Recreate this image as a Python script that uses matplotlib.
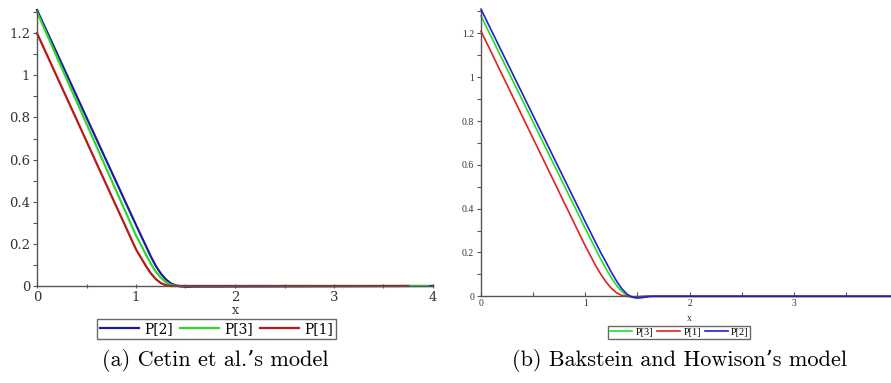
import numpy as np
import matplotlib.pyplot as plt
from matplotlib.ticker import MultipleLocator, FixedLocator

# ---- data ----
# (a) Cetin et al.'s model
x_a = [0, 0.2, 0.4, 0.6, 0.8, 1.0, 1.1, 1.15, 1.2, 1.25, 1.3, 1.35, 1.4, 1.45, 1.5, 1.6, 3.75, 3.95, 4.0]
p2_a = [1.31, 1.106, 0.902, 0.698, 0.494, 0.29, 0.19, 0.14, 0.095, 0.06, 0.032, 0.013, 0.003, -0.002, -0.004, -0.003, 0, 0, 0]
p3_a = [1.30, 1.088, 0.876, 0.664, 0.452, 0.24, 0.15, 0.105, 0.068, 0.04, 0.018, 0.006, 0.001, 0, 0, 0, 0, 0, np.nan]
p1_a = [1.20, 0.995, 0.79, 0.584, 0.379, 0.174, 0.095, 0.06, 0.033, 0.014, 0.004, 0, 0, 0, 0, 0, 0, np.nan, np.nan]

# (b) Bakstein and Howison's model
x_b = [0, 0.2, 0.4, 0.6, 0.8, 1.0, 1.1, 1.15, 1.2, 1.25, 1.3, 1.35, 1.4, 1.45, 1.5, 1.55, 1.6, 1.65, 4.0]
p2_b = [1.31, 1.116, 0.922, 0.728, 0.534, 0.34, 0.245, 0.198, 0.155, 0.11, 0.07, 0.035, 0.01, -0.004, -0.008, -0.006, -0.002, 0, 0]
p3_b = [1.28, 1.086, 0.892, 0.698, 0.504, 0.31, 0.215, 0.168, 0.125, 0.085, 0.05, 0.022, 0.004, -0.004, -0.005, -0.003, 0, 0, 0]
p1_b = [1.21, 1.014, 0.818, 0.622, 0.426, 0.23, 0.14, 0.1, 0.065, 0.037, 0.016, 0.004, 0, -0.002, -0.002, 0, 0.001, 0, 0]

yticks = [0, 0.2, 0.4, 0.6, 0.8, 1, 1.2]
ylabels = ["0", "0.2", "0.4", "0.6", "0.8", "1", "1.2"]
xticks_a = [0, 1, 2, 3, 4]
xticks_b = [0, 1, 2, 3]

fig = plt.figure(figsize=(8.91, 3.83), dpi=100)

def style_axes(ax, xt, fs, family, xdir, ydir):
    for s in ["top", "right"]:
        ax.spines[s].set_visible(False)
    for s in ["left", "bottom"]:
        ax.spines[s].set_color("#555555")
        ax.spines[s].set_linewidth(1.0)
    ax.set_xlim(0, 4)
    ax.set_ylim(0, 1.31)
    ax.xaxis.set_major_locator(FixedLocator(xt))
    ax.xaxis.set_minor_locator(MultipleLocator(0.5))
    ax.yaxis.set_major_locator(FixedLocator(yticks))
    ax.yaxis.set_minor_locator(MultipleLocator(0.1))
    ax.set_yticklabels(ylabels)
    ax.set_xticklabels([str(t) for t in xt])
    ax.tick_params(axis="x", which="both", direction=xdir, length=3, width=0.8, color="#555555",
                   labelsize=fs, pad=2)
    ax.tick_params(axis="y", which="both", direction=ydir, length=3, width=0.8, color="#555555",
                   labelsize=fs, pad=2)
    for lab in ax.get_xticklabels() + ax.get_yticklabels():
        lab.set_family(family)
        lab.set_color("#333333")

# left panel
ax1 = fig.add_axes([37/891, 97/383, 396/891, 276/383])
style_axes(ax1, xticks_a, 9.5, "DejaVu Serif", "inout", "out")
b1, = ax1.plot(x_a, p2_a, color="#1c1c9a", lw=1.6, clip_on=False)
g1, = ax1.plot(x_a, p3_a, color="#2fd62f", lw=1.6, clip_on=False)
r1, = ax1.plot(x_a, p1_a, color="#b81818", lw=1.6, clip_on=False)
ax1.set_xlabel("x", fontsize=9, family="DejaVu Serif", color="#333333", labelpad=0)
leg1 = ax1.legend([b1, g1, r1], ["P[2]", "P[3]", "P[1]"], loc="upper center",
                  bbox_to_anchor=((216.5 - 37) / 396, -0.12), ncol=3, frameon=True, fancybox=False,
                  prop={"family": "DejaVu Serif", "size": 10}, handlelength=2.8,
                  handletextpad=0.4, columnspacing=0.5, borderpad=0.2, borderaxespad=0)
leg1.get_frame().set_edgecolor("#444444")
leg1.get_frame().set_linewidth(1.0)

# right panel (x axis runs past the figure edge, as in the original)
ax2 = fig.add_axes([481/891, 86.7/383, 417/891, 287/383])
style_axes(ax2, xticks_b, 7, "Liberation Serif", "in", "out")
b2, = ax2.plot(x_b, p2_b, color="#2020c8", lw=1.2, clip_on=False, zorder=3)
g2, = ax2.plot(x_b, p3_b, color="#22dd22", lw=1.2, clip_on=False, zorder=2)
r2, = ax2.plot(x_b, p1_b, color="#e02222", lw=1.2, clip_on=False, zorder=2.5)
ax2.set_xlabel("x", fontsize=7, family="Liberation Serif", color="#333333", labelpad=4.5)
leg2 = ax2.legend([g2, r2, b2], ["P[3]", "P[1]", "P[2]"], loc="upper center",
                  bbox_to_anchor=((679 - 481) / 417, -0.104), ncol=3, frameon=True, fancybox=False,
                  prop={"family": "Liberation Serif", "size": 7.5}, handlelength=2.2,
                  handletextpad=0.3, columnspacing=0.4, borderpad=0.15, borderaxespad=0)
leg2.get_frame().set_edgecolor("#444444")
leg2.get_frame().set_linewidth(1.0)

# captions
fig.text(215/891, 1 - 361/383, "(a) Cetin et al.\u2019s model", ha="center", va="center",
         fontsize=16, family=["cmr10", "DejaVu Serif"])
fig.text(679/891, 1 - 361/383, "(b) Bakstein and Howison\u2019s model", ha="center", va="center",
         fontsize=16, family=["cmr10", "DejaVu Serif"])

fig.savefig("out.png", dpi=100)
